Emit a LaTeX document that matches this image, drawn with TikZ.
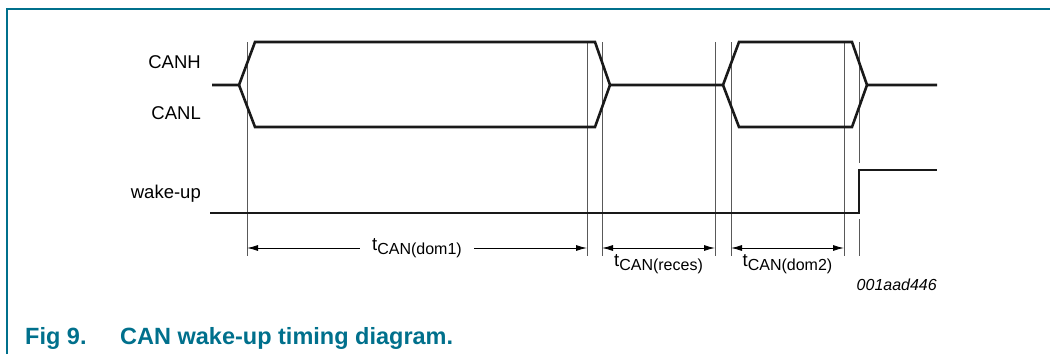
\documentclass[tikz,border=0pt]{standalone}
\usepackage{fontspec}
\setmainfont{Liberation Sans}
\usetikzlibrary{arrows.meta,positioning}
\definecolor{figteal}{RGB}{0,112,140}
\newcommand{\tcan}[1]{t\raisebox{-4pt}{\fontsize{16}{16}\selectfont CAN(#1)}}

\begin{document}
\begin{tikzpicture}[x=1pt,y=-1pt,
  wave/.style={line width=2.6pt,line join=miter,color=black!90},
  marker/.style={line width=0.8pt,color=black!65},
  dimline/.style={line width=0.9pt,{Latex[length=11pt,width=6pt]}-{Latex[length=11pt,width=6pt]}},
  siglabel/.style={anchor=base east,inner sep=0pt,font=\fontsize{18.5}{20}\selectfont},
  dimlabel/.style={inner sep=2pt,font=\fontsize{18.5}{20}\selectfont}]
  \useasboundingbox (0,0) rectangle (1050,354);
  \draw[figteal,line width=1.6pt] (7,354) -- (7,9) -- (1050,9);

  % signal names
  \node[siglabel] (canh) at (201,68) {CANH};
  \node[siglabel] (canl) at (201,119) {CANL};
  \node[siglabel] (wake) at (201,198) {wake-up};

  % timing markers
  \foreach \name/\x in {m1/247,m2/587,m3/602,m4/715,m5/731,m6/844,m7/859}
    \coordinate (\name) at (\x,248);
  \foreach \name in {m1,m2,m3,m4,m5,m6}
    \draw[marker] (\name |- 0,42) -- (\name |- 0,256);
  \draw[marker] (m7 |- 0,42) -- (m7 |- 0,163);
  \draw[marker] (m7 |- 0,219) -- (m7 |- 0,256);

  % bus lines
  \draw[wave] (212,85) -- (239,85) -- (255,42) -- (595,42) -- (610,85) -- (723,85)
    -- (739,42) -- (852,42) -- (867,85) -- (937,85);
  \draw[wave] (239,85) -- (255,127) -- (595,127) -- (610,85);
  \draw[wave] (723,85) -- (739,127) -- (852,127) -- (867,85);
  \draw[wave] (210,213) -- (859,213) -- (859,170) -- (937,170);

  % durations
  \draw[dimline] (m1) -- (m2) node[midway,fill=white,dimlabel,inner xsep=12pt] {\tcan{dom1}};
  \draw[dimline] (m3) -- (m4) node[midway,below=4pt,dimlabel] {\tcan{reces}};
  \draw[dimline] (m5) -- (m6) node[midway,below=4pt,dimlabel] {\tcan{dom2}};

  \node[anchor=base east,inner sep=0pt,font=\fontsize{16}{18}\selectfont\itshape] (code) at (937,290) {001aad446};

  \node[anchor=base west,inner sep=0pt,text=figteal,font=\fontsize{23.5}{26}\selectfont\bfseries] (fig) at (25,344) {Fig 9.};
  \node[anchor=base west,inner sep=0pt,text=figteal,font=\fontsize{23.5}{26}\selectfont\bfseries] (title) at (120,344) {CAN wake-up timing diagram.};
\end{tikzpicture}
\end{document}
